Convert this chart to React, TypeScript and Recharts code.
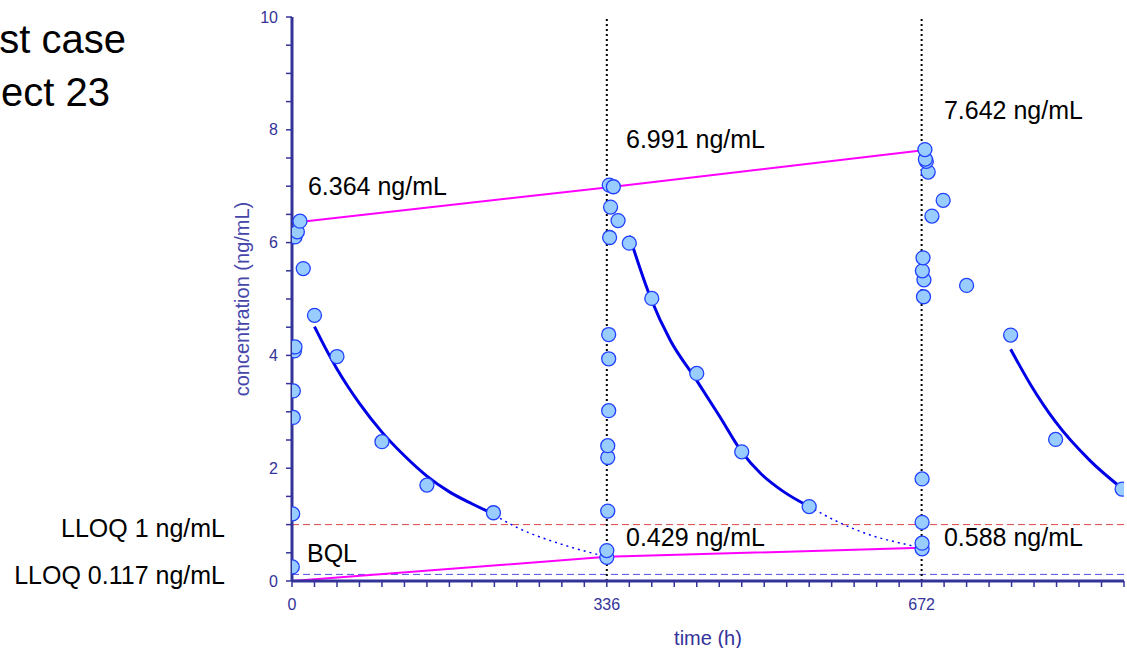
import React from 'react';
import { ComposedChart, Line, Scatter, XAxis, YAxis, ReferenceLine, ReferenceDot } from 'recharts';

// Observed concentrations (time h, concentration ng/mL)
const obsTime = [
  0.3, 0.7, 1.4, 1.4, 2.5, 3.2, 3.2, 5.7, 8.5, 12, 24, 48, 96, 144, 215,
  336, 336, 337, 337, 337, 338, 338, 338, 339, 340, 338.6, 343, 348, 360, 384, 432, 480, 552,
  672.5, 672.5, 672.5, 672.5, 674, 674.5, 672.8, 673.5, 683, 695, 679, 677, 676, 675.5, 720, 767, 815, 886,
];
const obsConc = [
  0.25, 1.19, 2.9, 3.37, 4.08, 4.15, 6.1, 6.19, 6.38, 5.54, 4.71, 3.98, 2.47, 1.7, 1.21,
  0.42, 0.54, 1.24, 2.19, 2.4, 3.02, 3.94, 4.37, 6.09, 6.63, 7.02, 6.99, 6.39, 5.99, 5.01, 3.68, 2.29, 1.32,
  0.57, 0.67, 1.04, 1.81, 5.04, 5.34, 5.5, 5.73, 6.47, 6.75, 7.25, 7.44, 7.48, 7.65, 5.24, 4.36, 2.51, 1.63,
];

// Fitted decay curves (solid) and extrapolations (dotted)
const curve1Time = [24, 36, 48, 60, 72, 96, 120, 144, 168, 192, 211];
const curve1Conc = [4.51, 4.12, 3.76, 3.44, 3.15, 2.64, 2.22, 1.86, 1.58, 1.37, 1.22];
const dotted1Time = [211, 240, 288, 336];
const dotted1Conc = [1.22, 0.95, 0.65, 0.429];
const curve2Time = [360, 383, 404, 431, 456, 480, 500, 525, 552];
const curve2Conc = [6.12, 5.01, 4.26, 3.58, 2.93, 2.29, 1.91, 1.58, 1.32];
const dotted2Time = [552, 585, 620, 650, 672];
const dotted2Conc = [1.32, 1.03, 0.8, 0.67, 0.588];
const curve3Time = [767, 788, 815, 852, 886];
const curve3Conc = [4.11, 3.49, 2.82, 2.13, 1.64];

// Peak and trough lines
const peakTime = [8, 343, 676];
const peakConc = [6.364, 6.991, 7.642];
const troughTime = [0, 336, 672];
const troughConc = [0, 0.429, 0.588];

// Axes
const doseTimes = [336, 672];
const xTicks = Array.from({ length: 38 }, (_, i) => i * 24);
const xMajor = [0, 336, 672];
const yTicks = Array.from({ length: 21 }, (_, i) => i * 0.5);
const yMajor = [0, 2, 4, 6, 8, 10];
const lloqValues = [1, 0.117];
const lloqLabels = ['LLOQ 1 ng/mL', 'LLOQ 0.117 ng/mL'];
const lloqColors = ['#e04848', '#5050e0'];

// Annotations (text, anchor time, anchor conc)
const annoText = ['6.364 ng/mL', '6.991 ng/mL', '7.642 ng/mL', '0.429 ng/mL', '0.588 ng/mL', 'BQL'];
const annoTime = [17, 356.5, 695.8, 356.5, 695.8, 16];
const annoConc = [7.0, 7.84, 8.35, 0.78, 0.78, 0.5];

const titleLines = ['st case', 'ect 23'];

const zip = (t: number[], c: number[]) => t.map((x, i) => ({ t: x, v: c[i] }));

const obs = zip(obsTime, obsConc);
const curve1 = zip(curve1Time, curve1Conc);
const dotted1 = zip(dotted1Time, dotted1Conc);
const curve2 = zip(curve2Time, curve2Conc);
const dotted2 = zip(dotted2Time, dotted2Conc);
const curve3 = zip(curve3Time, curve3Conc);
const peak = zip(peakTime, peakConc);
const trough = zip(troughTime, troughConc);

const FONT = '"Liberation Sans", Arial, sans-serif';
const NAVY = '#333399';

const XTick = (props: any) => {
  const { x, y, payload } = props;
  if (!xMajor.includes(payload.value)) return <g />;
  return (
    <text x={x} y={y} dy="0.71em" textAnchor="middle" fill={NAVY} fontSize={16} fontFamily={FONT}>
      {payload.value}
    </text>
  );
};

const YTick = (props: any) => {
  const { x, y, payload } = props;
  if (!yMajor.includes(payload.value)) return <g />;
  return (
    <text x={x} y={y} dy="0.355em" textAnchor="end" fill={NAVY} fontSize={16} fontFamily={FONT}>
      {payload.value}
    </text>
  );
};

const Dot = (p: any) => (
  <circle cx={p.cx} cy={p.cy} r={7} fill="#99ccff" stroke="#2040ff" strokeWidth={1.3} />
);

const lineCommon = {
  dataKey: 'v',
  type: 'monotone' as const,
  dot: false,
  activeDot: false,
  isAnimationActive: false,
  legendType: 'none' as const,
};

const lloqLabel = (text: string, dy: number) => (p: any) => {
  const vb = p.viewBox;
  return (
    <text x={vb.x - 67} y={vb.y + dy} textAnchor="end" dominantBaseline="central" fill="#000" fontSize={25} fontFamily={FONT}>
      {text}
    </text>
  );
};

export default function App() {
  return (
    <div style={{ position: 'absolute', left: 0, top: 0, width: 1127, height: 648, background: '#fff' }}>
      <svg width={300} height={130} style={{ position: 'absolute', left: 0, top: 0 }}>
        <text x={126} y={53} textAnchor="end" fontSize={40} fontFamily={FONT} fill="#000">{titleLines[0]}</text>
        <text x={110} y={106} textAnchor="end" fontSize={40} fontFamily={FONT} fill="#000">{titleLines[1]}</text>
      </svg>
      <div style={{ position: 'absolute', left: 0, top: 0 }}>
        <ComposedChart width={1127} height={648} margin={{ top: 17, right: 3, bottom: 0, left: 232 }}>
          <XAxis
            type="number"
            dataKey="t"
            domain={[0, 888]}
            ticks={xTicks}
            interval={0}
            allowDataOverflow
            tick={<XTick />}
            tickSize={6}
            tickMargin={12}
            height={67}
            axisLine={{ stroke: NAVY, strokeWidth: 3 }}
            tickLine={{ stroke: NAVY, strokeWidth: 1.5 }}
            label={{ value: 'time (h)', position: 'insideBottom', offset: 3, fill: NAVY, fontSize: 20, fontFamily: FONT }}
          />
          <YAxis
            type="number"
            dataKey="v"
            domain={[0, 10]}
            ticks={yTicks}
            interval={0}
            allowDataOverflow
            tick={<YTick />}
            tickSize={6}
            tickMargin={8}
            width={60}
            axisLine={{ stroke: NAVY, strokeWidth: 3 }}
            tickLine={{ stroke: NAVY, strokeWidth: 1.5 }}
            label={{
              content: (p: any) => {
                const vb = p.viewBox;
                const cx = vb.x + 10;
                const cy = vb.y + vb.height / 2;
                return (
                  <text x={cx} y={cy} transform={`rotate(-90 ${cx} ${cy})`} textAnchor="middle" dominantBaseline="central" fill="#4646aa" fontSize={20} fontFamily={FONT}>
                    concentration (ng/mL)
                  </text>
                );
              },
            }}
          />
          {lloqValues.map((v, i) => (
            <ReferenceLine
              key={v}
              y={v}
              stroke={lloqColors[i]}
              strokeDasharray="7 4"
              strokeWidth={1}
              ifOverflow="visible"
              label={{ content: lloqLabel(lloqLabels[i], i === 0 ? 3 : 1) }}
            />
          ))}
          {doseTimes.map((d) => (
            <ReferenceLine key={d} x={d} stroke="#000" strokeDasharray="2 3" strokeWidth={2} ifOverflow="visible" />
          ))}
          <Line {...lineCommon} data={trough} stroke="#ff00ff" strokeWidth={2} type="linear" />
          <Line {...lineCommon} data={peak} stroke="#ff00ff" strokeWidth={2} type="linear" />
          <Line {...lineCommon} data={dotted1} stroke="#0000ff" strokeWidth={1.5} strokeDasharray="2 4" />
          <Line {...lineCommon} data={dotted2} stroke="#0000ff" strokeWidth={1.5} strokeDasharray="2 4" />
          <Line {...lineCommon} data={curve1} stroke="#0000e6" strokeWidth={3} />
          <Line {...lineCommon} data={curve2} stroke="#0000e6" strokeWidth={3} />
          <Line {...lineCommon} data={curve3} stroke="#0000e6" strokeWidth={3} />
          <Scatter data={obs} shape={<Dot />} isAnimationActive={false} legendType="none" />
          {annoText.map((txt, i) => (
            <ReferenceDot
              key={txt}
              x={annoTime[i]}
              y={annoConc[i]}
              ifOverflow="visible"
              shape={(p: any) => (
                <text x={p.cx} y={p.cy} dominantBaseline="central" textAnchor="start" fill="#000" fontSize={25} fontFamily={FONT}>
                  {txt}
                </text>
              )}
            />
          ))}
        </ComposedChart>
      </div>
    </div>
  );
}
